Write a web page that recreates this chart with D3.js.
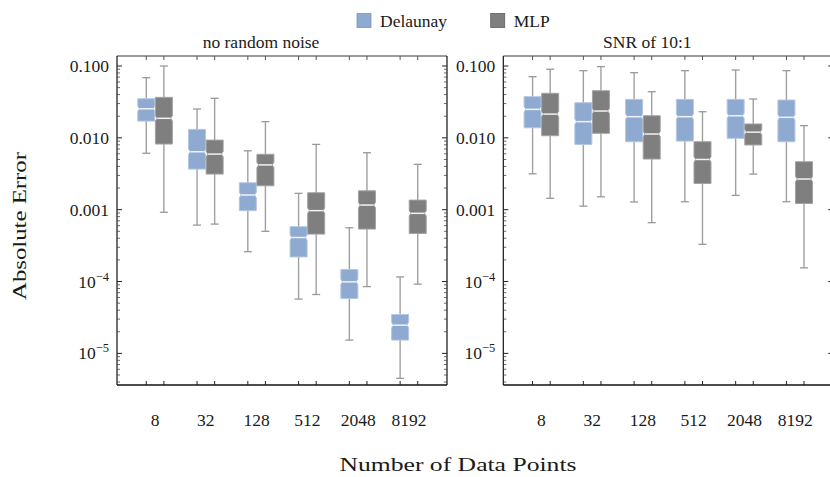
<!DOCTYPE html>
<html>
<head>
<meta charset="utf-8">
<script src="https://cdn.jsdelivr.net/npm/d3@7"></script>
<style>
  body { margin: 0; background: #fff; }
  text { font-family: "Liberation Serif", "Times New Roman", serif; fill: #1a1a1a; }
</style>
</head>
<body>
<div id="chart"></div>
<script>
// Data: [whisker low, q1, median, q3, whisker high] per group
//= ================================
const groups = ["8", "32", "128", "512", "2048", "8192"];
const seriesNames = ["Delaunay", "MLP"];
const panelTitles = ["no random noise", "SNR of 10:1"];

const cleanDelaunay = [
  [0.0061, 0.0171, 0.0254, 0.035, 0.0687],
  [0.00061, 0.00367, 0.0064, 0.0131, 0.0252],
  [0.00026, 0.00097, 0.0016, 0.00237, 0.0066],
  [0.000057, 0.00022, 0.00041, 0.00058, 0.00169],
  [0.0000153, 0.000058, 0.000099, 0.000147, 0.00056],
  [0.0000045, 0.0000153, 0.0000247, 0.0000348, 0.000116]
];
const cleanMLP = [
  [0.00092, 0.0082, 0.0187, 0.0366, 0.1],
  [0.00063, 0.00313, 0.00594, 0.0093, 0.0355],
  [0.0005, 0.00215, 0.0042, 0.0059, 0.0168],
  [0.000066, 0.000457, 0.00097, 0.00172, 0.0081],
  [0.000085, 0.000537, 0.00116, 0.00183, 0.0062],
  [0.000092, 0.000467, 0.00089, 0.00136, 0.00428]
];
const noisyDelaunay = [
  [0.00316, 0.0138, 0.0249, 0.0374, 0.071],
  [0.00112, 0.0081, 0.0168, 0.0308, 0.086],
  [0.00128, 0.00883, 0.0197, 0.0343, 0.0807],
  [0.00129, 0.009, 0.0197, 0.0343, 0.086],
  [0.00158, 0.00984, 0.0203, 0.0343, 0.088],
  [0.00129, 0.00883, 0.0193, 0.0336, 0.086]
];
const noisyMLP = [
  [0.00144, 0.0107, 0.0214, 0.0417, 0.09],
  [0.00151, 0.01156, 0.0236, 0.0453, 0.098],
  [0.00066, 0.00507, 0.0113, 0.0203, 0.0438],
  [0.00033, 0.00232, 0.005, 0.00883, 0.0231],
  [0.00313, 0.00795, 0.012, 0.0156, 0.0347],
  [0.000155, 0.00122, 0.00267, 0.00465, 0.0148]
];

const yTickValues = [0.1, 0.01, 0.001, 1e-4, 1e-5];
const yTickLabels = ["0.100", "0.010", "0.001", "10|−4", "10|−5"];

const panelData = [
  [cleanDelaunay, cleanMLP],
  [noisyDelaunay, noisyMLP]
];

// Layout
//= ================================
const svgWidth = 830;
const svgHeight = 477;
const panelLeft = [117, 503.3];
const panelWidth = 330;
const plotTop = 56;
const plotBottom = 385;

const fills = ["#8eaad1", "#7f7f7f"];
const edges = ["#b3c6e2", "#a3a3a3"];
const whiskerColor = "#a0a0a0";
const boxWidth = 17;
const boxOffset = 8.8;

const svg = d3.select("#chart")
  .append("svg")
  .attr("width", svgWidth)
  .attr("height", svgHeight);

const yScale = d3.scaleLog()
  .domain([Math.pow(10, -5.44), Math.pow(10, -0.861)])
  .range([plotBottom, plotTop]);

// minor log ticks
const minorTicks = [];
for (let e = -6; e <= -1; e++) {
  for (let m = 2; m <= 9; m++) {
    const v = m * Math.pow(10, e);
    if (v >= yScale.domain()[0] && v <= yScale.domain()[1]) minorTicks.push(v);
  }
}

panelData.forEach(function (data, p) {
  const x0 = panelLeft[p];
  const x1 = x0 + panelWidth;
  const g = svg.append("g");

  const xScale = d3.scalePoint()
    .domain(groups)
    .range([x0, x1])
    .padding(0.75);

  const centers = [];
  groups.forEach(grp => {
    centers.push(xScale(grp) - boxOffset, xScale(grp) + boxOffset);
  });

  // frame: top/right gray, left/bottom black
  g.append("line").attr("x1", x0).attr("x2", x1).attr("y1", plotTop).attr("y2", plotTop)
    .attr("stroke", "#7a7a7a").attr("stroke-width", 1.6);
  g.append("line").attr("x1", x1).attr("x2", x1).attr("y1", plotTop).attr("y2", plotBottom)
    .attr("stroke", "#111").attr("stroke-width", 1.2);
  g.append("line").attr("x1", x0).attr("x2", x0).attr("y1", plotTop).attr("y2", plotBottom)
    .attr("stroke", "#111").attr("stroke-width", 1.2);
  g.append("line").attr("x1", x0).attr("x2", x1).attr("y1", plotBottom).attr("y2", plotBottom)
    .attr("stroke", "#111").attr("stroke-width", 1.4);

  // y ticks (inward on both sides)
  [[x0, 1], [x1, -1]].forEach(function ([xx, dir]) {
    g.selectAll(null).data(yTickValues).enter().append("line")
      .attr("x1", xx).attr("x2", xx + dir * 5)
      .attr("y1", d => yScale(d)).attr("y2", d => yScale(d))
      .attr("stroke", "#222").attr("stroke-width", 1);
    g.selectAll(null).data(minorTicks).enter().append("line")
      .attr("x1", xx).attr("x2", xx + dir * 3)
      .attr("y1", d => yScale(d)).attr("y2", d => yScale(d))
      .attr("stroke", "#444").attr("stroke-width", 0.8);
  });

  // x ticks at box centers, top and bottom
  g.selectAll(null).data(centers).enter().append("line")
    .attr("x1", d => d).attr("x2", d => d)
    .attr("y1", plotBottom).attr("y2", plotBottom - 4)
    .attr("stroke", "#222");
  g.selectAll(null).data(centers).enter().append("line")
    .attr("x1", d => d).attr("x2", d => d)
    .attr("y1", plotTop).attr("y2", plotTop + 4)
    .attr("stroke", "#555");

  // y tick labels
  yTickValues.forEach(function (v, i) {
    const parts = yTickLabels[i].split("|");
    const t = g.append("text")
      .attr("x", x0 - 8)
      .attr("y", yScale(v) + 6)
      .attr("text-anchor", "end")
      .style("font-size", "17.5px");
    t.append("tspan").text(parts[0]);
    if (parts[1]) {
      t.append("tspan").attr("dy", -7).style("font-size", "12.5px").text(parts[1]);
    }
  });

  // x tick labels
  g.selectAll(null).data(groups).enter().append("text")
    .attr("x", d => xScale(d))
    .attr("y", 426)
    .attr("text-anchor", "middle")
    .style("font-size", "17.5px")
    .text(d => d);

  // title
  g.append("text")
    .attr("x", (x0 + x1) / 2 - 21)
    .attr("y", 48)
    .attr("text-anchor", "middle")
    .style("font-size", "17.5px")
    .text(panelTitles[p]);

  // boxes
  data.forEach(function (series, s) {
    const off = s === 0 ? -boxOffset : boxOffset;
    series.forEach(function (d, gi) {
      const cx = xScale(groups[gi]) + off;
      const [lo, q1, med, q3, hi] = d.map(v => yScale(v));
      // whisker
      g.append("line").attr("x1", cx).attr("x2", cx).attr("y1", hi).attr("y2", lo)
        .attr("stroke", whiskerColor).attr("stroke-width", 1.4);
      [hi, lo].forEach(yy => {
        g.append("line").attr("x1", cx - 4).attr("x2", cx + 4).attr("y1", yy).attr("y2", yy)
          .attr("stroke", "#999").attr("stroke-width", 1.3);
      });
      // notched box
      const hw = boxWidth / 2, nh = 2.6, ni = 1.8;
      const path = `M${cx - hw},${q3} H${cx + hw} V${med - nh} L${cx + hw - ni},${med} L${cx + hw},${med + nh} V${q1} H${cx - hw} V${med + nh} L${cx - hw + ni},${med} L${cx - hw},${med - nh} Z`;
      g.append("path").attr("d", path)
        .attr("fill", fills[s]).attr("stroke", edges[s]).attr("stroke-width", 1);
      g.append("line")
        .attr("x1", cx - hw + ni).attr("x2", cx + hw - ni)
        .attr("y1", med).attr("y2", med)
        .attr("stroke", "#f2f2f2").attr("stroke-width", 1.5);
    });
  });
});

// legend
const legendX = [357, 490.7];
seriesNames.forEach(function (name, s) {
  svg.append("rect")
    .attr("x", legendX[s]).attr("y", 13.5)
    .attr("width", 14).attr("height", 14)
    .attr("fill", fills[s])
    .attr("stroke", s === 0 ? "#7f93b0" : "#5f5f5f").attr("stroke-width", 0.8);
  svg.append("text")
    .attr("x", legendX[s] + 23).attr("y", 27)
    .style("font-size", "17.5px")
    .text(name);
});

// axis titles
svg.append("text")
  .attr("x", 458).attr("y", 471)
  .attr("text-anchor", "middle")
  .attr("textLength", 237).attr("lengthAdjust", "spacingAndGlyphs")
  .style("font-size", "19px")
  .text("Number of Data Points");

svg.append("text")
  .attr("transform", "translate(26, 226) rotate(-90)")
  .attr("text-anchor", "middle")
  .attr("textLength", 148).attr("lengthAdjust", "spacingAndGlyphs")
  .style("font-size", "19px")
  .text("Absolute Error");
</script>
</body>
</html>
